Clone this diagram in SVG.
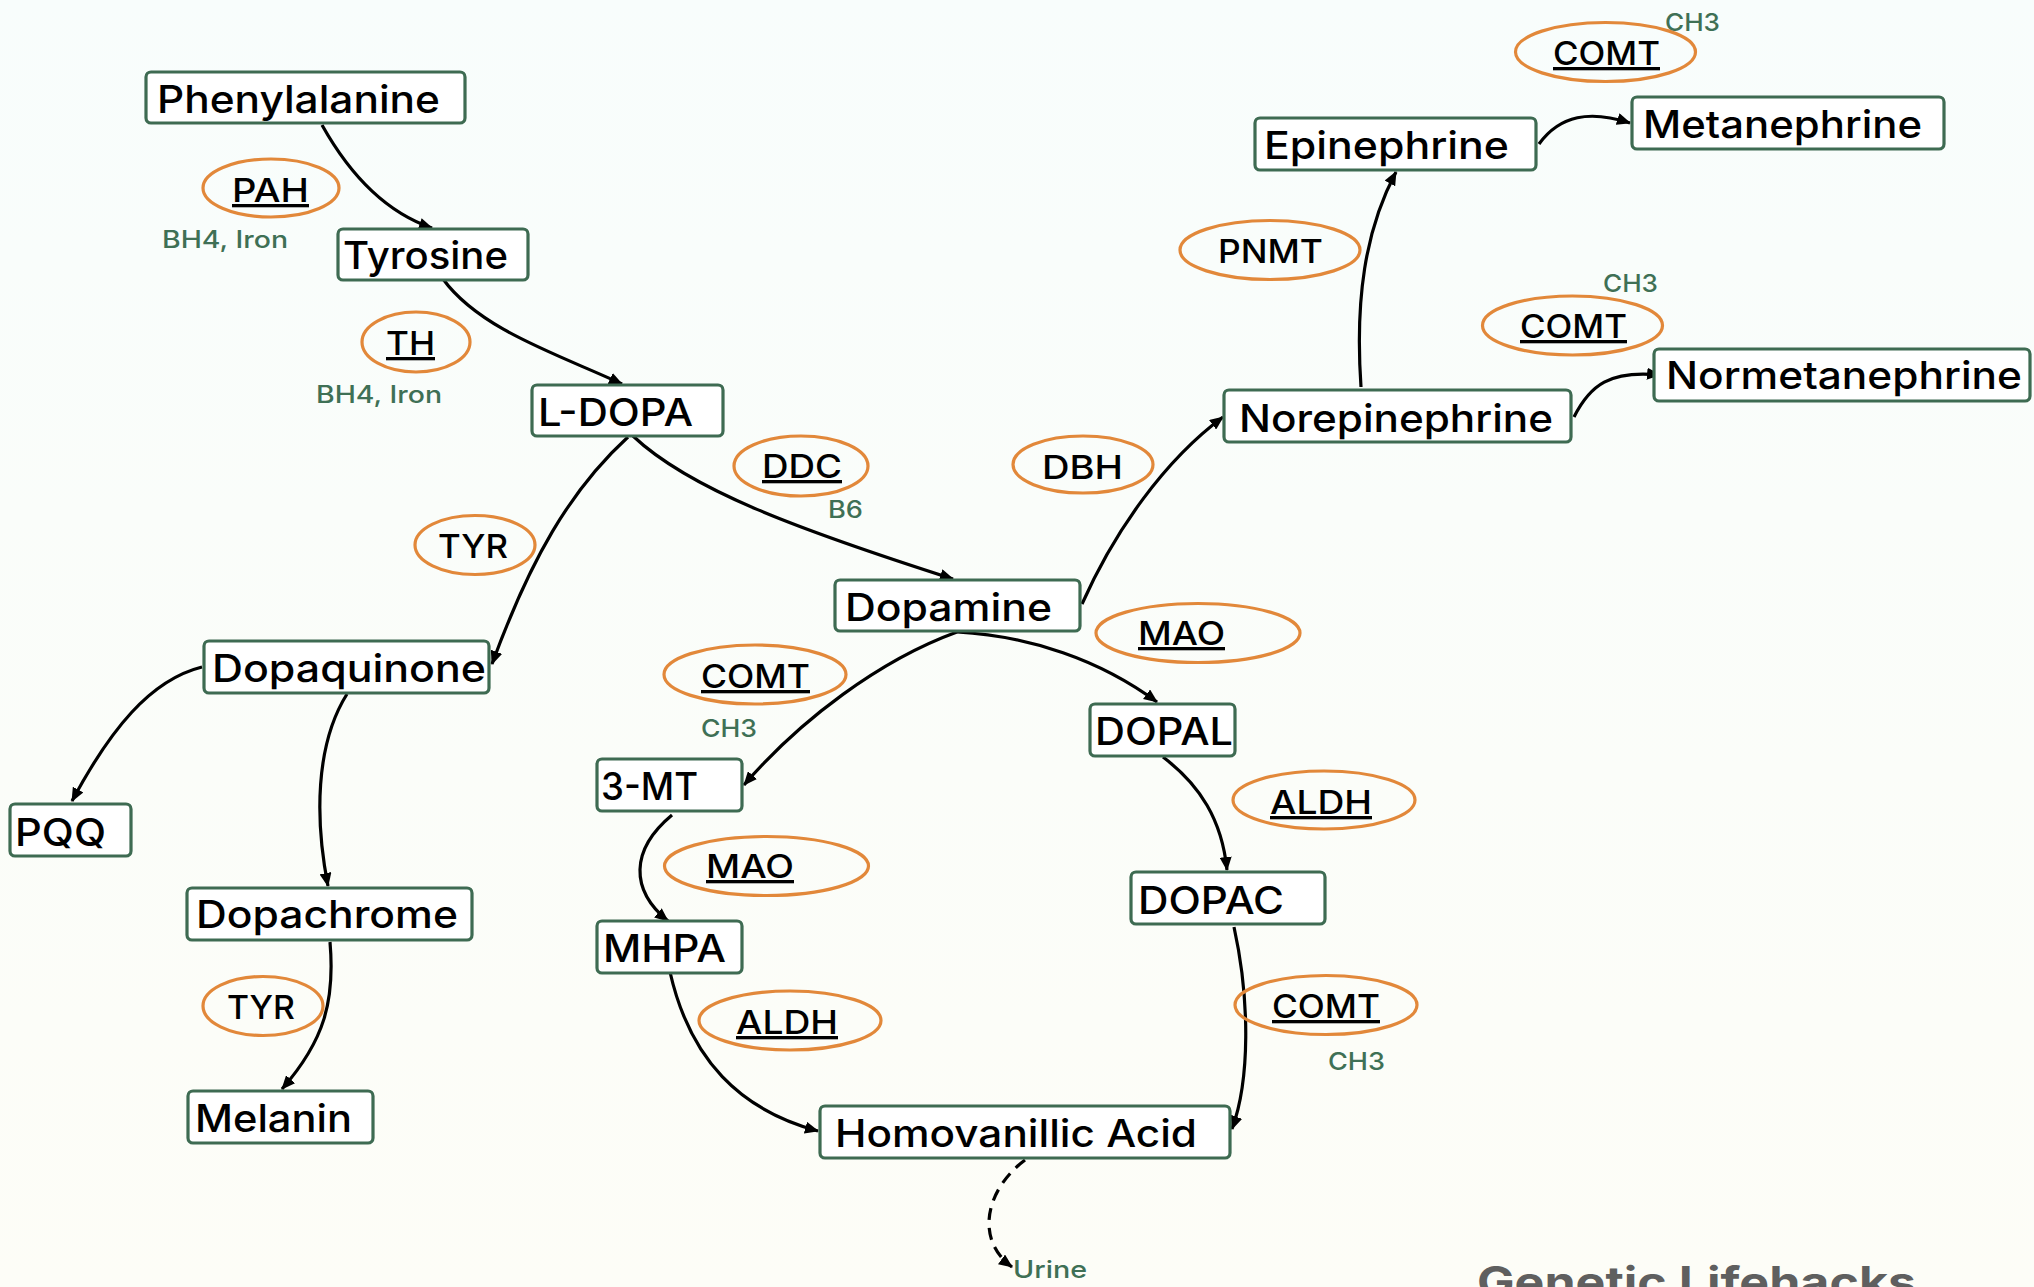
<svg xmlns="http://www.w3.org/2000/svg" width="2034" height="1287" viewBox="0 0 2034 1287">
<defs>
<linearGradient id="bg" x1="0" y1="0" x2="0" y2="1">
<stop offset="0" stop-color="#f8fdfc"/>
<stop offset="1" stop-color="#fdfdf7"/>
</linearGradient>
<marker id="ah" markerUnits="userSpaceOnUse" viewBox="0 0 14 12" markerWidth="14" markerHeight="12" refX="13" refY="6" orient="auto">
<path d="M0,0 L14,6 L0,12 z" fill="#000"/>
</marker>
<style>
.box{fill:#ffffff;stroke:#3e6b52;stroke-width:3.2}
.nt{font-family:Inter,"Noto Sans","Liberation Sans",sans-serif;font-weight:500;font-size:38px;fill:#000}
.enz{fill:none;stroke:#e2883a;stroke-width:3.2}
.et{font-family:Inter,"Noto Sans","Liberation Sans",sans-serif;font-weight:500;font-size:33px;fill:#000}
.u{text-decoration:underline}
.gt{font-family:Inter,"Noto Sans","Liberation Sans",sans-serif;font-weight:500;font-size:24px;fill:#3f7055}
.c{fill:none;stroke:#000;stroke-width:3.2;marker-end:url(#ah)}
.d{stroke-dasharray:12 8}
.wm{font-family:Inter,"Liberation Sans",sans-serif;font-weight:700;font-size:42px;fill:#5f5f5f}
</style>
</defs>
<rect x="0" y="0" width="2034" height="1287" fill="url(#bg)"/>

<g id="connectors">
<path class="c" d="M322,125 C350,175 385,212 432,228"/>
<path class="c" d="M443,279 C480,330 560,355 622,384"/>
<path class="c" d="M628,437 C570,490 530,560 492,664"/>
<path class="c" d="M633,436 C690,490 800,530 953,579"/>
<path class="c" d="M202,667 C150,680 110,730 72,801"/>
<path class="c" d="M347,694 C315,745 315,820 328,886"/>
<path class="c" d="M330,942 C335,1000 325,1040 282,1089"/>
<path class="c" d="M957,632 C880,660 800,720 744,785"/>
<path class="c" d="M672,815 C630,850 630,890 668,921"/>
<path class="c" d="M670,972 C690,1060 740,1110 818,1131"/>
<path class="c" d="M957,632 C1030,636 1100,660 1157,702"/>
<path class="c" d="M1163,757 C1200,785 1222,820 1227,870"/>
<path class="c" d="M1234,927 C1250,1000 1250,1080 1232,1129"/>
<path class="c" d="M1082,604 C1115,530 1165,460 1223,417"/>
<path class="c" d="M1361,387 C1355,300 1365,230 1396,172"/>
<path class="c" d="M1539,144 C1560,115 1590,110 1630,123"/>
<path class="c" d="M1574,417 C1590,385 1610,370 1660,375"/>
<path class="c d" d="M1025,1160 C985,1190 975,1240 1012,1267"/>
</g>

<g id="phenylalanine"><rect class="box" x="146" y="72" width="319" height="51" rx="5"/><text class="nt" x="157" y="113" textLength="283" lengthAdjust="spacingAndGlyphs">Phenylalanine</text></g>
<g id="tyrosine"><rect class="box" x="338" y="229" width="190" height="51" rx="5"/><text class="nt" x="343" y="269" textLength="165" lengthAdjust="spacingAndGlyphs">Tyrosine</text></g>
<g id="ldopa"><rect class="box" x="532" y="385" width="191" height="51" rx="5"/><text class="nt" x="538" y="426" textLength="155" lengthAdjust="spacingAndGlyphs">L-DOPA</text></g>
<g id="dopamine"><rect class="box" x="835" y="580" width="245" height="51" rx="5"/><text class="nt" x="845" y="621" textLength="207" lengthAdjust="spacingAndGlyphs">Dopamine</text></g>
<g id="dopaquinone"><rect class="box" x="204" y="641" width="285" height="52" rx="5"/><text class="nt" x="212" y="682" textLength="274" lengthAdjust="spacingAndGlyphs">Dopaquinone</text></g>
<g id="pqq"><rect class="box" x="10" y="804" width="121" height="52" rx="5"/><text class="nt" x="15" y="846" textLength="91" lengthAdjust="spacingAndGlyphs">PQQ</text></g>
<g id="dopachrome"><rect class="box" x="187" y="888" width="285" height="52" rx="5"/><text class="nt" x="196" y="928" textLength="262" lengthAdjust="spacingAndGlyphs">Dopachrome</text></g>
<g id="melanin"><rect class="box" x="188" y="1091" width="185" height="52" rx="5"/><text class="nt" x="195" y="1132" textLength="157" lengthAdjust="spacingAndGlyphs">Melanin</text></g>
<g id="3mt"><rect class="box" x="597" y="759" width="145" height="52" rx="5"/><text class="nt" x="601" y="800" textLength="97" lengthAdjust="spacingAndGlyphs">3-MT</text></g>
<g id="mhpa"><rect class="box" x="597" y="921" width="145" height="52" rx="5"/><text class="nt" x="603" y="962" textLength="123" lengthAdjust="spacingAndGlyphs">MHPA</text></g>
<g id="hva"><rect class="box" x="820" y="1106" width="410" height="52" rx="5"/><text class="nt" x="835" y="1147" textLength="362" lengthAdjust="spacingAndGlyphs">Homovanillic Acid</text></g>
<g id="dopal"><rect class="box" x="1090" y="704" width="145" height="52" rx="5"/><text class="nt" x="1095" y="745" textLength="138" lengthAdjust="spacingAndGlyphs">DOPAL</text></g>
<g id="dopac"><rect class="box" x="1131" y="872" width="194" height="52" rx="5"/><text class="nt" x="1138" y="914" textLength="146" lengthAdjust="spacingAndGlyphs">DOPAC</text></g>
<g id="norepinephrine"><rect class="box" x="1224" y="390" width="347" height="52" rx="5"/><text class="nt" x="1239" y="432" textLength="314" lengthAdjust="spacingAndGlyphs">Norepinephrine</text></g>
<g id="epinephrine"><rect class="box" x="1255" y="118" width="281" height="52" rx="5"/><text class="nt" x="1264" y="159" textLength="245" lengthAdjust="spacingAndGlyphs">Epinephrine</text></g>
<g id="metanephrine"><rect class="box" x="1632" y="97" width="312" height="52" rx="5"/><text class="nt" x="1643" y="138" textLength="279" lengthAdjust="spacingAndGlyphs">Metanephrine</text></g>
<g id="normetanephrine"><rect class="box" x="1654" y="349" width="376" height="52" rx="5"/><text class="nt" x="1666" y="389" textLength="356" lengthAdjust="spacingAndGlyphs">Normetanephrine</text></g>

<g id="enz-pah"><ellipse class="enz" cx="271" cy="188" rx="68" ry="29"/><text class="et u" x="232" y="202" textLength="77" lengthAdjust="spacingAndGlyphs">PAH</text><text class="gt" x="162" y="248" textLength="126" lengthAdjust="spacingAndGlyphs">BH4, Iron</text></g>
<g id="enz-th"><ellipse class="enz" cx="416" cy="342" rx="54" ry="30"/><text class="et u" x="386" y="355" textLength="49" lengthAdjust="spacingAndGlyphs">TH</text><text class="gt" x="316" y="403" textLength="126" lengthAdjust="spacingAndGlyphs">BH4, Iron</text></g>
<g id="enz-ddc"><ellipse class="enz" cx="801" cy="466" rx="67" ry="30"/><text class="et u" x="762" y="478" textLength="80" lengthAdjust="spacingAndGlyphs">DDC</text><text class="gt" x="828" y="518" textLength="35" lengthAdjust="spacingAndGlyphs">B6</text></g>
<g id="enz-tyr1"><ellipse class="enz" cx="475" cy="545" rx="60" ry="29.5"/><text class="et" x="438" y="558" textLength="70" lengthAdjust="spacingAndGlyphs">TYR</text></g>
<g id="enz-tyr2"><ellipse class="enz" cx="263" cy="1006" rx="60" ry="29.5"/><text class="et" x="227" y="1019" textLength="68" lengthAdjust="spacingAndGlyphs">TYR</text></g>
<g id="enz-comt-3mt"><ellipse class="enz" cx="755" cy="674.5" rx="91" ry="29.5"/><text class="et u" x="701" y="688" textLength="109" lengthAdjust="spacingAndGlyphs">COMT</text><text class="gt" x="701" y="737" textLength="56" lengthAdjust="spacingAndGlyphs">CH3</text></g>
<g id="enz-mao-mhpa"><ellipse class="enz" cx="766.5" cy="866" rx="102" ry="29.5"/><text class="et u" x="706" y="878" textLength="88" lengthAdjust="spacingAndGlyphs">MAO</text></g>
<g id="enz-aldh-hva"><ellipse class="enz" cx="790" cy="1020.5" rx="91" ry="29.5"/><text class="et u" x="736" y="1034" textLength="102" lengthAdjust="spacingAndGlyphs">ALDH</text></g>
<g id="enz-mao-dopal"><ellipse class="enz" cx="1198" cy="633" rx="102" ry="29.5"/><text class="et u" x="1138" y="645" textLength="87" lengthAdjust="spacingAndGlyphs">MAO</text></g>
<g id="enz-aldh-dopac"><ellipse class="enz" cx="1324" cy="800" rx="91" ry="29"/><text class="et u" x="1270" y="814" textLength="102" lengthAdjust="spacingAndGlyphs">ALDH</text></g>
<g id="enz-comt-hva"><ellipse class="enz" cx="1326" cy="1005" rx="91" ry="29.5"/><text class="et u" x="1272" y="1018" textLength="108" lengthAdjust="spacingAndGlyphs">COMT</text><text class="gt" x="1328" y="1070" textLength="57" lengthAdjust="spacingAndGlyphs">CH3</text></g>
<g id="enz-dbh"><ellipse class="enz" cx="1083" cy="464.5" rx="70" ry="28.5"/><text class="et" x="1042" y="479" textLength="81" lengthAdjust="spacingAndGlyphs">DBH</text></g>
<g id="enz-pnmt"><ellipse class="enz" cx="1270" cy="250" rx="90" ry="29.5"/><text class="et" x="1218" y="263" textLength="105" lengthAdjust="spacingAndGlyphs">PNMT</text></g>
<g id="enz-comt-met"><ellipse class="enz" cx="1605.5" cy="52" rx="90" ry="29.5"/><text class="et u" x="1553" y="65" textLength="107" lengthAdjust="spacingAndGlyphs">COMT</text><text class="gt" x="1665" y="31" textLength="55" lengthAdjust="spacingAndGlyphs">CH3</text></g>
<g id="enz-comt-normet"><ellipse class="enz" cx="1572.5" cy="325.5" rx="90" ry="29.5"/><text class="et u" x="1520" y="338" textLength="107" lengthAdjust="spacingAndGlyphs">COMT</text><text class="gt" x="1603" y="292" textLength="55" lengthAdjust="spacingAndGlyphs">CH3</text></g>

<g id="urine"><text class="gt" x="1013" y="1278" textLength="74" lengthAdjust="spacingAndGlyphs">Urine</text></g>
<g id="watermark"><text class="wm" x="1477" y="1297" textLength="439" lengthAdjust="spacingAndGlyphs">Genetic Lifehacks</text></g>
</svg>
